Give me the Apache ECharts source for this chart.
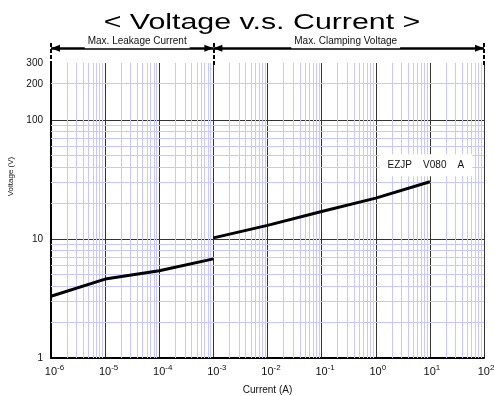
<!DOCTYPE html>
<html>
<head>
<meta charset="utf-8">
<script src="https://cdn.jsdelivr.net/npm/echarts@6/dist/echarts.min.js"></script>
<style>
  html, body { margin: 0; padding: 0; background: #fff; }
  #chart { width: 494px; height: 396px; }
</style>
</head>
<body>
<div id="chart"></div>
<script>
// Leakage region (below 1 mA) and clamping region (1 mA and up)
const leakCurrent  = [1e-6, 1e-5, 1e-4, 1e-3];
const leakVoltage  = [3.3, 4.6, 5.4, 6.8];
const clampCurrent = [1e-3, 1e-2, 1e-1, 1, 10];
const clampVoltage = [10.2, 13.0, 17.0, 22.0, 30.2];

// Axis ranges and labels
const currentRange = [1e-6, 100];
const voltageRange = [1, 300];
const voltageExtraLabel = 200;
const partName = 'EZJP    V080    A';
const regionNames = ['Max. Leakage Current', 'Max. Clamping Voltage'];
const regionBounds = [1e-6, 1e-3, 100];

const FONT = 'Liberation Sans, Arial, sans-serif';
const MINOR = '#c8c8ff';

// Minor (2..9 per decade) grid values
const xMinor = [];
for (let e = -6; e < 2; e++) {
  for (let k = 2; k <= 9; k++) xMinor.push(+(k * Math.pow(10, e)).toPrecision(3));
}
const yMinor = [];
for (let e = 0; e < 2; e++) {
  for (let k = 2; k <= 9; k++) yMinor.push(+(k * Math.pow(10, e)).toPrecision(3));
}
yMinor.push(voltageExtraLabel);

// snap a 1px line onto the pixel grid
const crisp = p => Math.round(p + 0.5) - 0.5;

function renderMinorX(params, api) {
  const v = api.value(0);
  const a = api.coord([v, voltageRange[0]]);
  const b = api.coord([v, voltageRange[1]]);
  const x = crisp(a[0]);
  return { type: 'line', silent: true,
    shape: { x1: x, y1: a[1], x2: x, y2: b[1] },
    style: { stroke: MINOR, lineWidth: 1 } };
}
function renderMinorY(params, api) {
  const v = api.value(1);
  const a = api.coord([currentRange[0], v]);
  const b = api.coord([currentRange[1], v]);
  const y = crisp(a[1]);
  const line = { type: 'line', silent: true,
    shape: { x1: a[0], y1: y, x2: b[0], y2: y },
    style: { stroke: MINOR, lineWidth: 1 } };
  if (v !== voltageExtraLabel) return line;
  return { type: 'group', children: [line, {
    type: 'text', silent: true, x: a[0] - 8, y: a[1],
    style: { text: String(v), fill: '#111', fontSize: 10, fontFamily: FONT,
      align: 'right', verticalAlign: 'middle' } }] };
}

const pairs = (xs, ys) => xs.map((x, i) => [x, ys[i]]);
const clampData = pairs(clampCurrent, clampVoltage).map((p, i, arr) =>
  i === arr.length - 1
    ? { value: p, label: { show: true, position: 'top', distance: 5, offset: [-4, 0],
        formatter: partName, backgroundColor: '#fff', padding: [6, 8, 6, 8],
        color: '#111', fontSize: 10, fontFamily: FONT } }
    : p);

// Arrow head whose tip sits on the line end point
const ARROW = 'path://M0,-9L0,-9M0,0L3,9L-3,9Z';

const chart = echarts.init(document.getElementById('chart'), null, { renderer: 'canvas' });

chart.setOption({
  animation: false,
  backgroundColor: '#fff',
  graphic: [{
    type: 'text', x: 262, y: 23, scaleX: 1.38, z: 10,
    style: { text: '< Voltage v.s. Current >', fontSize: 22, fontFamily: FONT,
      fill: '#000', align: 'center', verticalAlign: 'middle' }
  }],
  grid: [
    { left: 51, right: 10, top: 63, bottom: 38, outerBoundsMode: 'none', containLabel: false },
    { left: 51, right: 10, top: 41, height: 24, outerBoundsMode: 'none', containLabel: false }
  ],
  xAxis: [{
    type: 'log', logBase: 10, min: currentRange[0], max: currentRange[1], interval: 1,
    gridIndex: 0,
    name: 'Current (A)', nameLocation: 'middle', nameGap: 27,
    nameTextStyle: { fontSize: 10, color: '#111', fontFamily: FONT },
    axisLine: { show: true, onZero: false, lineStyle: { color: '#000', width: 2 } },
    axisTick: { show: false },
    axisLabel: {
      margin: 6, color: '#111',
      formatter: v => {
        const e = Math.round(Math.log10(v));
        return (e < 0 ? '{bn|10}' : '{bp|10}') + '{s|' + e + '}';
      },
      rich: {
        bn: { fontSize: 11, fontFamily: FONT, color: '#111', padding: [0, 0, 0, 7] },
        bp: { fontSize: 11, fontFamily: FONT, color: '#111', padding: [0, 0, 0, 4] },
        s: { fontSize: 8, fontFamily: FONT, color: '#111', padding: [0, 0, 7, 0] }
      }
    },
    splitLine: { show: true, lineStyle: { color: '#333', width: 1 } }
  }, {
    type: 'log', logBase: 10, min: currentRange[0], max: currentRange[1], gridIndex: 1,
    show: false
  }],
  yAxis: [{
    type: 'log', logBase: 10, min: voltageRange[0], max: voltageRange[1], interval: 1,
    gridIndex: 0,
    name: 'Voltage (V)', nameLocation: 'middle', nameGap: 36, nameRotate: 90,
    nameTextStyle: { fontSize: 8, color: '#111', fontFamily: FONT, padding: [0, 0, 0, 68] },
    axisLine: { show: true, onZero: false, lineStyle: { color: '#000', width: 2 } },
    axisTick: { show: false },
    axisLabel: { margin: 8, fontSize: 10, fontFamily: FONT, color: '#111',
      formatter: v => String(Math.round(v)) },
    splitLine: { show: true, showMaxLine: false, lineStyle: { color: '#333', width: 1 } }
  }, {
    type: 'value', min: 0, max: 1, gridIndex: 1, show: false
  }],
  series: [
    {
      type: 'custom', name: 'minorX', xAxisIndex: 0, yAxisIndex: 0, z: 1, silent: true,
      clip: false, renderItem: renderMinorX,
      data: xMinor.map(v => [v, voltageRange[0]])
    },
    {
      type: 'custom', name: 'minorY', xAxisIndex: 0, yAxisIndex: 0, z: 1, silent: true,
      clip: false, renderItem: renderMinorY,
      data: yMinor.map(v => [currentRange[0], v])
    },
    {
      type: 'line', name: 'leak', data: pairs(leakCurrent, leakVoltage),
      xAxisIndex: 0, yAxisIndex: 0, z: 5, symbol: 'none', smooth: false,
      lineStyle: { color: '#000', width: 3 }
    },
    {
      type: 'line', name: 'clamp', data: clampData,
      xAxisIndex: 0, yAxisIndex: 0, z: 5, symbol: 'circle', symbolSize: 1, showSymbol: true,
      itemStyle: { color: '#000' }, smooth: false,
      lineStyle: { color: '#000', width: 3 }
    },
    {
      // region markers above the plot
      type: 'line', data: [], xAxisIndex: 1, yAxisIndex: 1, z: 6, silent: true,
      markLine: {
        silent: true, animation: false, precision: 12,
        symbol: ['none', 'none'],
        emphasis: { disabled: true },
        data: regionBounds.map(v => ({
          xAxis: v, label: { show: false },
          lineStyle: { color: '#000', type: [4, 2], width: 2 }
        })).concat(regionNames.map((name, i) => [
          { coord: [regionBounds[i], 0.7], symbol: ARROW, symbolSize: [7, 18],
            lineStyle: { color: '#000', type: 'solid', width: 2.5 },
            label: { show: true, position: 'insideMiddleTop', distance: 0, formatter: name,
              offset: [i === 0 ? 5 : -3, 0],
              backgroundColor: '#fff', padding: [2, 3, 2, 3], color: '#111',
              fontSize: 10, fontFamily: FONT } },
          { coord: [regionBounds[i + 1], 0.7], symbol: ARROW, symbolSize: [7, 18] }
        ]))
      }
    }
  ]
});
</script>
</body>
</html>
